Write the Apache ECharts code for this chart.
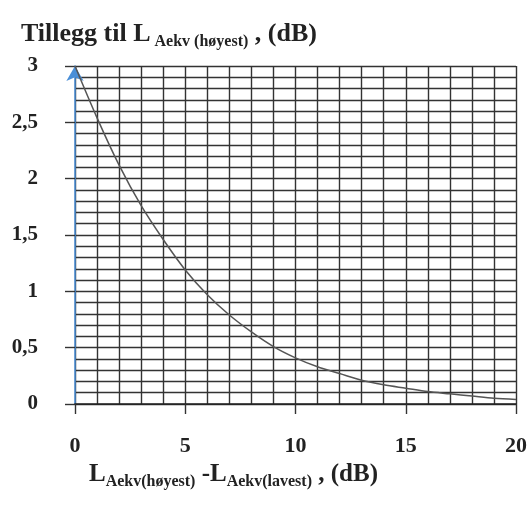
<!DOCTYPE html>
<html>
<head>
<meta charset="utf-8">
<script src="https://cdn.jsdelivr.net/npm/echarts@6/dist/echarts.min.js"></script>
<style>html,body{margin:0;padding:0;background:#fff;}#c{width:531px;height:509px;}</style>
</head>
<body>
<div id="c"></div>
<script>
// Level difference between the two sources (dB)
var diff = [0, 1, 2, 3, 4, 5, 6, 7, 8, 9, 10, 11, 12, 13, 14, 15, 16, 17, 18, 19, 20];
// Addition to the highest level (dB)
var addition = [3.0, 2.54, 2.12, 1.76, 1.46, 1.19, 0.97, 0.79, 0.64, 0.51, 0.41, 0.33, 0.27, 0.21, 0.17, 0.14, 0.11, 0.09, 0.07, 0.05, 0.04];
var xTicks = [0, 5, 10, 15, 20];
var yTicks = ['0', '0,5', '1', '1,5', '2', '2,5', '3'];

var chart = echarts.init(document.getElementById('c'));
var F = '"Liberation Serif", "DejaVu Serif", serif';
var gridLine = { show: true, lineStyle: { color: '#333', width: 1.4 } };
chart.setOption({
  backgroundColor: '#fff',
  animation: false,
  title: [{
    left: 16, top: 12,
    text: '{a|Tillegg til L}{b|Aekv (høyest)}{a| , (dB)}',
    textStyle: {
      rich: {
        a: { fontFamily: F, fontWeight: 'bold', fontSize: 26, color: '#222', verticalAlign: 'bottom', lineHeight: 30 },
        b: { fontFamily: F, fontWeight: 'bold', fontSize: 16, color: '#222', verticalAlign: 'bottom', lineHeight: 30, padding: [0, 0, -3, 4] }
      }
    }
  }, {
    left: 84, top: 452,
    text: '{a|L}{b|Aekv(høyest)}{a| -L}{b|Aekv(lavest)}{a| , (dB)}',
    textStyle: {
      rich: {
        a: { fontFamily: F, fontWeight: 'bold', fontSize: 25, color: '#222', verticalAlign: 'bottom', lineHeight: 30 },
        b: { fontFamily: F, fontWeight: 'bold', fontSize: 16, color: '#222', verticalAlign: 'bottom', lineHeight: 30, padding: [0, 0, -3, 0] }
      }
    }
  }],
  grid: { left: 75, right: 15, top: 66, bottom: 105, containLabel: false },
  xAxis: {
    type: 'value', min: 0, max: 20, interval: 5,
    axisLine: { show: true, onZero: false, lineStyle: { color: '#222', width: 1.6 } },
    axisTick: { show: true, length: 10, lineStyle: { color: '#333', width: 1.4 } },
    axisLabel: {
      margin: 31, fontFamily: F, fontWeight: 'bold', fontSize: 22, color: '#222',
      formatter: function (v) { return xTicks.indexOf(v) >= 0 ? String(v) : ''; }
    },
    splitLine: gridLine,
    minorTick: { show: false, splitNumber: 5 },
    minorSplitLine: gridLine
  },
  yAxis: {
    type: 'value', min: 0, max: 3, interval: 0.5,
    axisLine: { show: true, onZero: false, lineStyle: { color: '#4a8fd8', width: 1.5 }, symbol: ['none', 'arrow'], symbolSize: [13, 15], symbolOffset: [0, 0] },
    axisTick: { show: true, length: 10, lineStyle: { color: '#333', width: 1.4 } },
    axisLabel: {
      margin: 37, fontFamily: F, fontWeight: 'bold', fontSize: 21, color: '#222',
      formatter: function (v) { return yTicks[Math.round(v * 2)]; }
    },
    splitLine: gridLine,
    minorTick: { show: false, splitNumber: 5 },
    minorSplitLine: gridLine
  },
  series: [{
    type: 'line',
    data: diff.map(function (d, i) { return [d, addition[i]]; }),
    smooth: 0.3,
    showSymbol: false,
    clip: false,
    lineStyle: { color: '#555', width: 1.5 },
    z: 3
  }]
});
</script>
</body>
</html>
